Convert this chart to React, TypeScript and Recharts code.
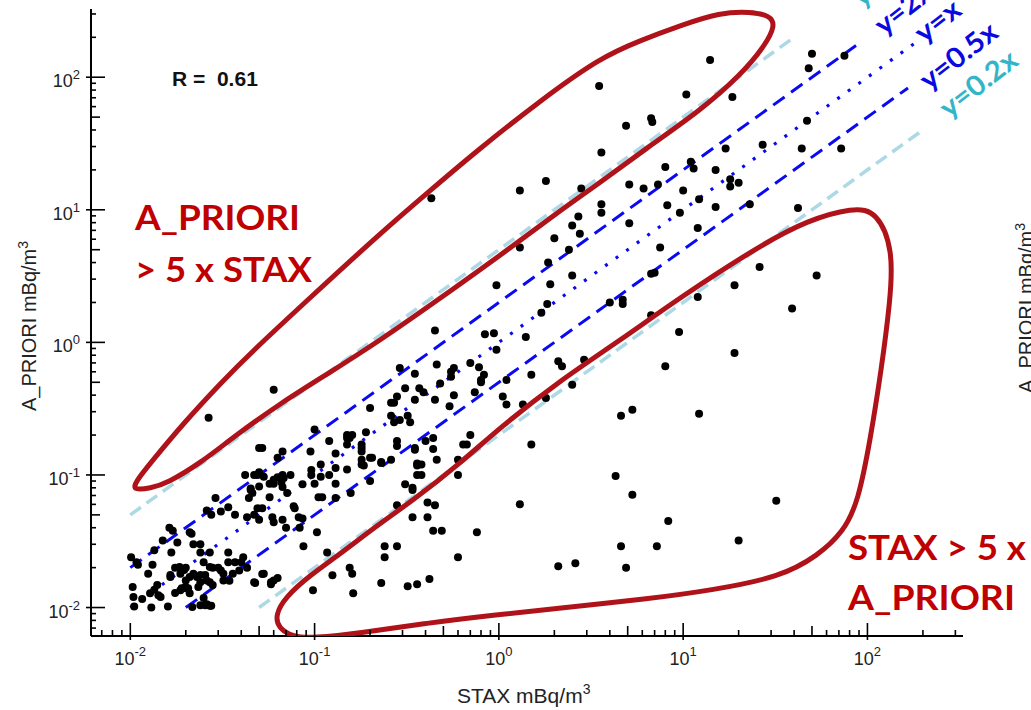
import React from "react";
import { ScatterChart, Scatter, XAxis, YAxis, ReferenceLine } from "recharts";

const X_MIN = 0.00612;
const X_MAX = 330;
const Y_MIN = 0.0061;
const Y_MAX = 327;

// [STAX, A_PRIORI] in mBq/m3
const lowCluster: [number, number][] = [
  [0.05, 0.16], [0.15, 0.19], [0.15, 0.17],
  [0.042, 0.1], [0.047, 0.1], [0.053, 0.097], [0.045, 0.079], [0.05, 0.082], [0.06, 0.092], [0.063, 0.096],
  [0.066, 0.088], [0.067, 0.081], [0.096, 0.109], [0.108, 0.097], [0.13, 0.113], [0.1, 0.086], [0.13, 0.067],
  [0.029, 0.067], [0.044, 0.067], [0.049, 0.056], [0.052, 0.056], [0.026, 0.054], [0.0275, 0.05], [0.031, 0.053],
  [0.034, 0.057], [0.037, 0.05], [0.043, 0.048], [0.047, 0.05], [0.05, 0.046], [0.059, 0.048], [0.06, 0.044],
  [0.067, 0.046], [0.07, 0.04], [0.077, 0.058], [0.078, 0.056], [0.082, 0.048], [0.086, 0.047], [0.083, 0.04],
  [0.087, 0.029], [0.103, 0.037],
  [0.0163, 0.04], [0.017, 0.038], [0.021, 0.037], [0.0215, 0.036], [0.018, 0.031], [0.015, 0.032], [0.0135, 0.027],
  [0.0167, 0.026], [0.0101, 0.024], [0.0108, 0.022], [0.0132, 0.021], [0.0125, 0.018], [0.0175, 0.02], [0.0165, 0.017],
  [0.0187, 0.018], [0.02, 0.02], [0.022, 0.03], [0.024, 0.03], [0.024, 0.026], [0.027, 0.026], [0.025, 0.022],
  [0.02, 0.016], [0.021, 0.017], [0.022, 0.018], [0.023, 0.017], [0.024, 0.0155], [0.026, 0.016], [0.028, 0.02],
  [0.03, 0.02], [0.027, 0.0155], [0.032, 0.018], [0.032, 0.016], [0.034, 0.026], [0.037, 0.022], [0.034, 0.022],
  [0.041, 0.024], [0.043, 0.02], [0.047, 0.0155], [0.053, 0.018], [0.058, 0.0155], [0.06, 0.016],
  [0.0103, 0.0143], [0.0104, 0.012], [0.0116, 0.0116], [0.0128, 0.0128], [0.0146, 0.012], [0.0105, 0.0102],
  [0.013, 0.01], [0.016, 0.0102], [0.0175, 0.0129], [0.019, 0.014], [0.02, 0.014], [0.021, 0.0128], [0.025, 0.0118],
  [0.026, 0.0106], [0.024, 0.0104], [0.027, 0.0103],
  [0.011, 0.021], [0.0165, 0.0176], [0.0185, 0.0202], [0.0196, 0.0192], [0.0187, 0.0135], [0.0199, 0.0143],
  [0.014, 0.0148], [0.0135, 0.0136], [0.0142, 0.0124], [0.0206, 0.014], [0.024, 0.0176], [0.0255, 0.0176],
  [0.027, 0.0202], [0.031, 0.019], [0.0234, 0.0143], [0.028, 0.0148], [0.0217, 0.0101], [0.0255, 0.0104],
  [0.0275, 0.0103], [0.0345, 0.0159], [0.036, 0.018], [0.039, 0.019], [0.04, 0.022], [0.0476, 0.0153],
  [0.052, 0.0179], [0.058, 0.015], [0.063, 0.0167],
];

const midBand: [number, number][] = [
  [0.063, 0.135], [0.067, 0.15], [0.052, 0.16], [0.05, 0.105], [0.049, 0.1], [0.067, 0.1], [0.068, 0.095],
  [0.06, 0.086], [0.057, 0.086], [0.074, 0.1], [0.086, 0.085], [0.096, 0.1], [0.108, 0.12], [0.12, 0.1],
  [0.13, 0.086], [0.15, 0.11], [0.105, 0.068], [0.11, 0.068], [0.157, 0.073], [0.2, 0.09], [0.045, 0.077],
  [0.046, 0.073], [0.057, 0.068], [0.071, 0.073],
  [0.2, 0.32], [0.1, 0.22], [0.19, 0.21], [0.15, 0.2], [0.155, 0.19], [0.16, 0.2], [0.12, 0.18], [0.18, 0.17],
  [0.18, 0.16], [0.18, 0.15], [0.095, 0.15], [0.13, 0.145], [0.2, 0.135], [0.205, 0.135], [0.18, 0.13],
  [0.18, 0.12], [0.185, 0.118], [0.23, 0.123], [0.36, 0.1], [0.36, 0.122],
  [0.6, 0.1], [0.34, 0.08], [0.34, 0.077], [0.31, 0.085], [0.46, 0.13], [0.38, 0.1], [0.36, 0.118], [0.38, 0.12],
  [0.44, 0.157], [0.44, 0.19], [0.4, 0.18], [0.35, 0.155], [0.28, 0.18], [0.28, 0.165], [0.64, 0.17], [0.67, 0.17],
  [0.7, 0.2], [0.6, 0.13], [0.26, 0.13], [0.23, 0.125],
  [0.31, 0.45], [0.37, 0.45], [0.39, 0.42], [0.48, 0.49], [0.8, 0.5], [1.1, 0.52], [0.57, 0.4], [0.74, 0.42],
  [0.45, 0.37], [0.54, 0.33], [0.35, 0.37], [0.28, 0.39], [0.26, 0.35], [0.27, 0.35], [1.05, 0.39], [1.1, 0.34],
  [1.35, 0.34], [0.26, 0.28], [0.27, 0.25], [0.29, 0.26], [0.32, 0.28], [0.33, 0.25], [0.35, 0.16], [2.5, 0.48],
  [1.8, 0.38],
  [0.97, 2.7], [1.83, 1.95], [1.7, 1.67], [1.4, 1.1], [0.84, 1.15], [0.94, 1.17], [0.45, 1.23], [0.97, 0.88],
  [2.1, 0.72], [2.2, 0.66], [2.9, 0.74], [1.5, 0.57], [0.7, 0.7], [0.78, 0.65], [0.83, 0.57], [0.8, 0.52],
  [0.46, 0.68], [0.55, 0.6], [0.57, 0.64], [0.55, 0.55], [0.35, 0.58], [0.29, 0.64],
];

const upperBand: [number, number][] = [
  [1.8, 16.5], [1.3, 14], [2.8, 14.5], [2.7, 8.9], [2.5, 7.6], [2.75, 6.6], [2.0, 6.1], [1.3, 5.2], [2.4, 5.0],
  [1.85, 4.0], [2.5, 3.2], [1.9, 2.75],
  [3.5, 86], [14, 135], [10.4, 74], [18.5, 71], [4.9, 43], [6.7, 49], [6.8, 46], [3.6, 27], [48, 117], [50, 150],
  [75, 145], [47, 47], [44, 29], [72, 29], [42, 10.3], [3.6, 11], [3.6, 9.5], [5.1, 15.5], [6.1, 14.5], [7.3, 15.5],
  [8, 21], [11, 23], [11.4, 20.5], [15, 20], [17, 29], [27, 31], [10, 14], [8.2, 10.8], [9.6, 9.5], [12.2, 12],
  [15, 10.5], [18, 17], [18, 15], [20, 16], [23, 11], [5.1, 7.9], [12, 7.3], [7.5, 5.2], [6.7, 3.3], [7.0, 3.35],
  [4.7, 2.1], [4.7, 1.95], [4.0, 2.0], [26, 3.7], [53, 3.2], [19, 2.7], [12, 2.2], [39, 1.8], [6.7, 1.6], [9.5, 1.2],
  [8, 0.66], [19, 0.83],
];

const lowerRight: [number, number][] = [
  [5.3, 0.31], [4.6, 0.28], [12.2, 0.29], [1.5, 0.17], [4.3, 0.098], [5.3, 0.071], [32, 0.064], [8.3, 0.045],
  [20, 0.032], [4.6, 0.029], [7.2, 0.029], [4.9, 0.02], [2.1, 0.0205], [2.6, 0.0216], [1.3, 0.06], [0.76, 0.037],
  [0.6, 0.024], [0.42, 0.0164], [0.36, 0.015], [0.32, 0.0145], [0.23, 0.0153], [0.24, 0.029], [0.24, 0.024],
  [0.28, 0.029], [0.44, 0.038], [0.49, 0.038], [0.34, 0.048], [0.41, 0.048], [0.41, 0.062], [0.45, 0.059],
  [0.28, 0.059], [0.155, 0.02], [0.16, 0.018], [0.162, 0.0128], [0.125, 0.0175], [0.117, 0.026], [0.098, 0.0135],
];

const outliers: [number, number][] = [[0.0266, 0.27], [0.06, 0.44], [0.43, 12.2]];

// reference lines y = k * x
const guideSlopes = [5, 2, 1, 0.5, 0.2];
const guideFrom = [0.01, 0.01, 0.01, 0.02, 0.05];
const guideTo = [39, 93, 194, 166, 194];
const guideNames = ["y=5x", "y=2x", "y=x", "y=0.5x", "y=0.2x"];

// hand drawn outlines, log10(STAX), log10(A_PRIORI)
const upperLoopLog: [number, number][] = [
  [-1.984, -1.115], [-1.891, -1.1], [-1.8, -1.062], [-1.62, -0.911], [-1.441, -0.715], [-1.186, -0.459],
  [-0.915, -0.225], [-0.644, 0.016], [-0.372, 0.28], [0.008, 0.656], [0.333, 0.995], [0.55, 1.206], [0.821, 1.485],
  [1.093, 1.749], [1.31, 2.013], [1.445, 2.239], [1.5, 2.39], [1.473, 2.465], [1.364, 2.495], [1.201, 2.488],
  [0.984, 2.39], [0.767, 2.277], [0.55, 2.148], [0.225, 1.824], [-0.117, 1.448], [-0.372, 1.146], [-0.644, 0.822],
  [-1.04, 0.317], [-1.349, -0.082], [-1.495, -0.286], [-1.712, -0.61], [-1.891, -0.911], [-1.973, -1.054],
];

const lowerLoopLog: [number, number][] = [
  [2.053, 0.988], [2.14, 0.694], [2.124, 0.317], [2.075, -0.21], [2.015, -0.738], [1.95, -1.2], [1.87, -1.43],
  [1.73, -1.61], [1.527, -1.77], [1.163, -1.868], [0.805, -1.936], [0.333, -2.004], [-0.03, -2.057],
  [-0.389, -2.117], [-0.752, -2.192], [-1.007, -2.23], [-1.116, -2.222], [-1.197, -2.154], [-1.213, -2.057],
  [-1.159, -1.921], [-1.023, -1.755], [-0.877, -1.612], [-0.644, -1.363], [-0.464, -1.19], [-0.209, -0.911],
  [0.008, -0.64], [0.333, -0.286], [0.659, 0.016], [0.984, 0.34], [1.418, 0.732], [1.673, 0.92], [1.923, 1.018],
];

const toPts = (arr: [number, number][]) => arr.map(([x, y]) => ({ x, y }));
const fromLog = (arr: [number, number][]) => arr.map(([lx, ly]) => ({ x: 10 ** lx, y: 10 ** ly }));

const buildTicks = (min: number, max: number) => {
  const out: number[] = [];
  for (let d = -3; d <= 2; d++) {
    for (let m = 1; m <= 9; m++) {
      const v = Number((m * 10 ** d).toPrecision(6));
      if (v >= min && v <= max) out.push(v);
    }
  }
  return out;
};
const xTicks = buildTicks(X_MIN, X_MAX);
const yTicks = buildTicks(Y_MIN, Y_MAX);

const AXIS_FONT = "'Liberation Sans', Arial, Helvetica, sans-serif";
const NOTE_FONT = "Lato, 'Open Sans', sans-serif";

const expOf = (v: number) => Math.round(Math.log10(v));
const isMajor = (v: number) => Math.abs(Math.log10(v) - expOf(v)) < 1e-6;
const mant = (v: number) => Math.round(v / 10 ** Math.floor(Math.log10(v) + 1e-9));

const XTick = (props: any) => {
  const { x, y, payload } = props;
  const v = payload.value;
  const major = isMajor(v);
  const len = major ? 13 : mant(v) === 5 ? 10 : 6;
  return (
    <g>
      <line x1={x} x2={x} y1={y - len} y2={major ? y + 4 : y} stroke="#000" strokeWidth={1.6} />
      {major && (
        <text x={x} y={y + 29} textAnchor="middle" fontSize={18} fill="#222" fontFamily={AXIS_FONT}>
          10
          <tspan dy={-9} fontSize={13}>
            {expOf(v)}
          </tspan>
        </text>
      )}
    </g>
  );
};

const YTick = (props: any) => {
  const { x, y, payload } = props;
  const v = payload.value;
  const major = isMajor(v);
  const len = major ? 14 : mant(v) === 5 ? 9 : 5;
  return (
    <g>
      <line x1={major ? x - 5 : x} x2={x + len} y1={y} y2={y} stroke="#000" strokeWidth={1.6} />
      {major && (
        <text x={x - 11} y={y + 10} textAnchor="end" fontSize={18} fill="#222" fontFamily={AXIS_FONT}>
          10
          <tspan dy={-8} fontSize={13}>
            {expOf(v)}
          </tspan>
        </text>
      )}
    </g>
  );
};

const Dot = (p: any) => <circle cx={p.cx} cy={p.cy} r={4} fill="#000" />;
const NoDot = () => <g />;

const guideStyle = [
  { stroke: "#ADD8E6", dash: "13 7", w: 3.5 },
  { stroke: "#0A0AF0", dash: "14 8", w: 3 },
  { stroke: "#0A0AF0", dash: "3 10", w: 3.2 },
  { stroke: "#0A0AF0", dash: "14 8", w: 3 },
  { stroke: "#ADD8E6", dash: "13 7", w: 3.5 },
];

// label anchor (baseline start) and colour of each guide label
const guideLabelPos = [
  { x: 862, y: 8, c: "#33B5C8", len: 62 },
  { x: 884, y: 36, c: "#0A0AE0", len: 64 },
  { x: 924, y: 44, c: "#0A0AE0", len: 50 },
  { x: 929, y: 91, c: "#0A0AE0", len: 90 },
  { x: 949, y: 119, c: "#33B5C8", len: 90 },
];

export default function App() {
  const RED = "#AF1219";
  return (
    <div style={{ position: "absolute", left: 0, top: 0, width: 1031, height: 710, background: "#fff" }}>
      <ScatterChart width={1031} height={710} margin={{ top: 9, right: 68, bottom: 24, left: 31 }}>
        <XAxis
          type="number"
          dataKey="x"
          scale="log"
          domain={[X_MIN, X_MAX]}
          allowDataOverflow
          ticks={xTicks}
          interval={0}
          tick={<XTick />}
          tickLine={false}
          tickSize={0}
          tickMargin={0}
          height={50}
          axisLine={{ stroke: "#000", strokeWidth: 2 }}
        />
        <YAxis
          type="number"
          dataKey="y"
          scale="log"
          domain={[Y_MIN, Y_MAX]}
          allowDataOverflow
          ticks={yTicks}
          interval={0}
          tick={<YTick />}
          tickLine={false}
          tickSize={0}
          tickMargin={0}
          width={60}
          axisLine={{ stroke: "#000", strokeWidth: 2 }}
        />
        {guideSlopes.map((k, i) => (
          <ReferenceLine
            key={guideNames[i]}
            segment={[
              { x: guideFrom[i], y: guideFrom[i] * k },
              { x: guideTo[i], y: guideTo[i] * k },
            ]}
            stroke={guideStyle[i].stroke}
            strokeWidth={guideStyle[i].w}
            strokeDasharray={guideStyle[i].dash}
            ifOverflow="visible"
          />
        ))}
        <Scatter data={toPts(lowCluster)} shape={Dot} isAnimationActive={false} />
        <Scatter data={toPts(midBand)} shape={Dot} isAnimationActive={false} />
        <Scatter data={toPts(upperBand)} shape={Dot} isAnimationActive={false} />
        <Scatter data={toPts(lowerRight)} shape={Dot} isAnimationActive={false} />
        <Scatter data={toPts(outliers)} shape={Dot} isAnimationActive={false} />
        <Scatter
          data={fromLog(upperLoopLog)}
          shape={NoDot}
          line={{ stroke: RED, strokeWidth: 5 }}
          lineJointType="basisClosed"
          isAnimationActive={false}
        />
        <Scatter
          data={fromLog(lowerLoopLog)}
          shape={NoDot}
          line={{ stroke: RED, strokeWidth: 5 }}
          lineJointType="basisClosed"
          isAnimationActive={false}
        />
      </ScatterChart>

      <svg
        width={1031}
        height={710}
        style={{ position: "absolute", left: 0, top: 0, pointerEvents: "none", overflow: "hidden" }}
      >
        <text x={172} y={86} fontSize={21} fontWeight={700} fontFamily={AXIS_FONT} fill="#111" style={{ whiteSpace: "pre" }}>
          {"R =  0.61"}
        </text>

        <text x={457} y={703} fontSize={21} fontFamily={AXIS_FONT} fill="#222">
          STAX mBq/m
          <tspan dy={-9} fontSize={14}>
            3
          </tspan>
        </text>
        <text
          x={36}
          y={326}
          fontSize={20}
          fontFamily={AXIS_FONT}
          fill="#222"
          textAnchor="middle"
          transform="rotate(-90 36 326)"
        >
          A_PRIORI mBq/m
          <tspan dy={-8} fontSize={14}>
            3
          </tspan>
        </text>
        <text x={1033} y={393} fontSize={20} fontFamily={AXIS_FONT} fill="#222" transform="rotate(-90 1033 393)">
          A_PRIORI mBq/m
          <tspan dy={-8} fontSize={14}>
            3
          </tspan>
        </text>

        <text x={135} y={230} fontSize={35} fontWeight={700} fontFamily={NOTE_FONT} fill="#C00000" textLength={165} lengthAdjust="spacingAndGlyphs">
          A_PRIORI
        </text>
        <text x={135} y={282} fontSize={35} fontWeight={700} fontFamily={NOTE_FONT} fill="#C00000" textLength={177} lengthAdjust="spacingAndGlyphs">
          {"> 5 x STAX"}
        </text>
        <text x={848} y={560} fontSize={35} fontWeight={700} fontFamily={NOTE_FONT} fill="#C00000" textLength={178} lengthAdjust="spacingAndGlyphs">
          {"STAX > 5 x"}
        </text>
        <text x={848} y={610} fontSize={35} fontWeight={700} fontFamily={NOTE_FONT} fill="#C00000" textLength={167} lengthAdjust="spacingAndGlyphs">
          A_PRIORI
        </text>

        {guideNames.map((name, i) => {
          const p = guideLabelPos[i];
          return (
            <text
              key={name}
              x={p.x}
              y={p.y}
              fontSize={28}
              fontWeight={700}
              fontFamily={NOTE_FONT}
              fill={p.c}
              textLength={p.len}
              lengthAdjust="spacingAndGlyphs"
              transform={`rotate(-38 ${p.x} ${p.y})`}
            >
              {name}
            </text>
          );
        })}
      </svg>
    </div>
  );
}
